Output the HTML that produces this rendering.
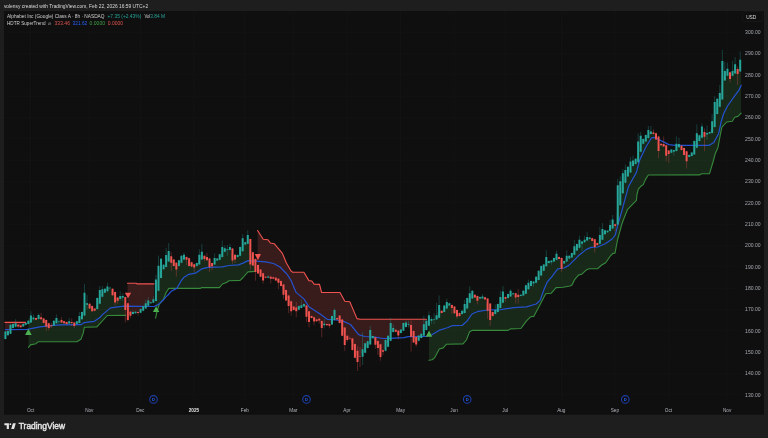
<!DOCTYPE html>
<html><head><meta charset="utf-8"><title>GOOGL chart</title>
<style>html,body{margin:0;padding:0;background:#1e1e1e;width:768px;height:438px;overflow:hidden}</style>
</head><body>
<svg width="768" height="438" viewBox="0 0 768 438" style="display:block;position:absolute;left:0;top:0">
<rect x="0" y="0" width="768" height="438" fill="#1e1e1e"/>
<rect x="4" y="11" width="760" height="403.7" fill="#0f0f0f"/>
<path d="M4 32.10H740.5 M4 53.44H740.5 M4 74.77H740.5 M4 96.11H740.5 M4 117.44H740.5 M4 138.78H740.5 M4 160.11H740.5 M4 181.44H740.5 M4 202.78H740.5 M4 224.12H740.5 M4 245.45H740.5 M4 266.79H740.5 M4 288.12H740.5 M4 309.46H740.5 M4 330.79H740.5 M4 352.13H740.5 M4 373.46H740.5 M4 394.80H740.5 M30.60 11V403.8 M89.28 11V403.8 M140.31 11V403.8 M193.89 11V403.8 M244.92 11V403.8 M293.39 11V403.8 M346.97 11V403.8 M400.55 11V403.8 M454.13 11V403.8 M505.16 11V403.8 M561.29 11V403.8 M614.87 11V403.8 M668.45 11V403.8 M727.13 11V403.8" stroke="#1b1b1b" stroke-width="0.33" fill="none"/>
<polygon points="5.0,322.4 25.6,322.4 25.6,325.2 23.3,325.2 20.7,326.4 18.2,325.9 15.6,324.2 13.1,326.0 10.5,329.2 8.0,333.1 5.4,335.3 5.0,335.3" fill="rgba(239,83,80,0.185)"/>
<polygon points="28.5,347.3 30.4,344.9 36.0,343.7 38.4,341.7 76.9,341.7 80.9,339.3 83.3,332.9 84.4,327.2 96.9,326.9 107.3,315.5 125.5,315.4 125.5,306.5 125.3,306.5 122.8,297.0 120.2,296.8 117.7,299.9 115.1,297.9 112.6,292.0 110.0,288.0 107.5,288.1 104.9,290.8 102.4,292.4 99.8,296.0 97.3,303.5 94.7,309.6 92.1,308.6 89.6,306.1 87.0,303.1 84.5,302.1 81.9,315.6 79.4,318.6 76.8,322.7 74.3,324.6 71.7,322.4 69.2,321.8 66.6,323.0 64.1,322.2 61.5,320.7 59.0,321.5 56.4,319.9 53.9,323.2 51.3,325.6 48.8,326.1 46.2,324.2 43.7,320.7 41.1,317.3 38.6,316.7 36.0,318.9 33.5,318.0 30.9,318.1 28.5,318.1" fill="rgba(76,175,80,0.16)"/>
<polygon points="127.5,283.3 136.5,283.3 137.0,283.9 154.0,283.9 154.0,300.3 153.4,300.3 150.8,302.8 148.3,302.4 145.7,305.1 143.2,308.5 140.6,310.8 138.1,313.0 135.5,312.4 133.0,312.7 130.4,314.2 127.9,311.8 127.5,311.8" fill="rgba(239,83,80,0.185)"/>
<polygon points="155.6,318.1 157.2,310.9 159.2,304.5 163.2,299.6 166.4,292.0 168.9,288.4 200.1,288.4 201.7,287.6 219.3,287.6 222.5,284.0 226.5,282.5 228.9,280.7 240.1,280.4 243.0,277.5 248.0,271.9 255.2,271.4 255.2,258.8 252.9,258.8 250.3,253.1 247.8,238.4 245.2,243.4 242.7,243.9 240.1,251.4 237.6,256.0 235.0,257.9 232.5,255.3 229.9,247.8 227.4,250.0 224.8,249.5 222.3,250.5 219.7,257.0 217.2,259.6 214.6,260.3 212.1,265.5 209.5,263.9 207.0,257.8 204.4,257.9 201.9,253.8 199.3,258.5 196.8,264.5 194.2,266.9 191.7,264.4 189.1,262.1 186.5,259.5 184.0,256.7 181.4,259.3 178.9,263.0 176.3,267.7 173.8,262.7 171.2,260.6 168.7,254.4 166.1,259.4 163.6,267.0 161.0,268.4 158.5,275.9 155.9,289.2 155.6,289.2" fill="rgba(76,175,80,0.16)"/>
<polygon points="257.6,230.5 263.2,239.3 268.0,239.8 270.4,243.0 274.4,243.8 278.4,248.6 282.4,253.4 286.4,263.0 291.0,271.0 292.7,272.2 303.9,272.3 308.9,280.6 311.8,281.0 314.3,284.3 319.5,284.4 321.6,292.5 340.0,292.5 344.8,301.2 349.8,301.7 357.0,318.6 360.0,319.3 426.5,319.3 426.5,325.4 426.4,325.4 423.8,328.1 421.3,335.8 418.7,338.1 416.2,341.2 413.6,336.8 411.1,333.4 408.5,324.4 406.0,324.4 403.4,326.9 400.9,331.2 398.3,333.9 395.8,330.8 393.2,329.3 390.7,330.8 388.1,341.2 385.6,345.4 383.0,351.6 380.5,351.4 377.9,346.1 375.4,341.9 372.8,337.1 370.3,336.4 367.7,344.6 365.1,347.9 362.6,350.8 360.0,356.8 357.5,357.5 354.9,350.8 352.4,344.2 349.8,338.4 347.3,338.3 344.7,337.6 342.2,327.7 339.6,319.2 337.1,318.8 334.5,314.7 332.0,320.3 329.4,325.5 326.9,324.7 324.3,324.1 321.8,326.6 319.2,320.3 316.7,320.4 314.1,320.2 311.6,317.1 309.0,317.9 306.5,312.3 303.9,305.2 301.4,305.4 298.8,307.9 296.3,309.6 293.7,308.3 291.2,307.2 288.6,302.5 286.1,295.2 283.5,290.5 281.0,283.5 278.4,282.3 275.8,279.0 273.3,278.0 270.7,278.8 268.2,276.8 265.6,277.2 263.1,277.5 260.5,273.1 258.0,269.2 257.6,269.2" fill="rgba(239,83,80,0.185)"/>
<polygon points="428.9,360.3 432.1,359.8 434.5,357.9 439.3,349.0 443.3,347.9 446.5,344.2 463.0,343.9 466.4,340.0 469.6,331.7 472.0,330.4 508.1,330.4 510.5,328.9 520.9,328.5 526.5,320.9 530.5,316.8 533.7,316.4 540.1,304.4 545.7,293.7 551.3,293.2 556.1,287.6 563.0,287.3 570.0,286.0 572.0,285.0 574.4,279.9 578.4,275.1 581.6,274.3 586.4,269.8 589.6,268.7 597.7,268.7 601.7,265.0 605.7,262.7 610.5,255.8 612.9,253.4 615.0,253.1 617.7,239.0 621.7,224.6 623.3,220.0 627.6,209.3 633.2,203.7 636.4,200.4 636.9,195.0 638.3,189.2 640.8,186.3 643.3,184.6 645.4,179.6 648.3,175.0 699.5,174.9 701.7,173.8 709.5,173.6 713.0,162.0 715.3,153.4 717.9,147.7 720.3,134.8 721.9,127.2 726.7,122.0 732.3,121.2 734.7,117.2 737.9,116.4 741.1,113.2 741.1,63.6 740.2,63.6 737.7,73.7 735.1,67.2 732.5,71.0 730.0,76.4 727.4,70.9 724.9,73.6 722.3,77.6 719.8,98.0 717.2,106.3 714.7,113.2 712.1,125.4 709.6,132.8 707.0,133.2 704.5,137.1 701.9,131.5 699.4,138.1 696.8,138.4 694.3,147.7 691.7,154.2 689.2,155.9 686.6,157.9 684.1,151.4 681.5,147.9 679.0,144.3 676.4,145.6 673.9,151.7 671.3,151.2 668.8,154.4 666.2,151.7 663.7,143.5 661.1,144.5 658.6,145.3 656.0,136.4 653.5,132.6 650.9,131.6 648.4,133.2 645.8,138.2 643.2,141.4 640.7,143.0 638.1,150.0 635.6,161.5 633.0,162.2 630.5,166.0 627.9,171.6 625.4,175.2 622.8,182.4 620.3,192.2 617.7,203.5 615.2,226.2 612.6,223.1 610.1,226.8 607.5,231.5 605.0,232.2 602.4,233.1 599.9,237.6 597.3,244.1 594.8,244.4 592.2,239.6 589.7,238.2 587.1,237.7 584.6,240.2 582.0,244.3 579.5,243.0 576.9,247.4 574.4,249.0 571.8,255.3 569.3,257.2 566.7,257.4 564.2,262.2 561.6,263.9 559.1,258.0 556.5,256.1 554.0,259.7 551.4,261.9 548.8,262.1 546.3,260.1 543.7,267.7 541.2,270.7 538.6,275.4 536.1,279.8 533.5,283.2 531.0,283.5 528.4,285.4 525.9,289.5 523.3,293.2 520.8,295.4 518.2,296.1 515.7,296.8 513.1,293.8 510.6,293.4 508.0,296.0 505.5,298.5 502.9,296.0 500.4,301.1 497.8,308.0 495.3,310.8 492.7,314.0 490.2,313.2 487.6,306.5 485.1,298.4 482.5,297.0 480.0,297.7 477.4,299.1 474.9,296.2 472.3,294.7 469.8,296.4 467.2,303.2 464.7,307.5 462.1,312.4 459.5,314.5 457.0,313.7 454.4,309.9 451.9,307.8 449.3,304.4 446.8,304.5 444.2,308.8 441.7,311.9 439.1,309.2 436.6,314.5 434.0,319.1 431.5,320.1 428.9,319.7 428.9,319.7" fill="rgba(76,175,80,0.16)"/>
<polyline points="5.0,322.4 25.6,322.4" fill="none" stroke="#ef5350" stroke-width="1.1" stroke-linejoin="round" stroke-linecap="round"/>
<polyline points="127.5,283.3 136.5,283.3 137.0,283.9 154.0,283.9" fill="none" stroke="#ef5350" stroke-width="1.1" stroke-linejoin="round" stroke-linecap="round"/>
<polyline points="257.6,230.5 263.2,239.3 268.0,239.8 270.4,243.0 274.4,243.8 278.4,248.6 282.4,253.4 286.4,263.0 291.0,271.0 292.7,272.2 303.9,272.3 308.9,280.6 311.8,281.0 314.3,284.3 319.5,284.4 321.6,292.5 340.0,292.5 344.8,301.2 349.8,301.7 357.0,318.6 360.0,319.3 426.5,319.3" fill="none" stroke="#ef5350" stroke-width="1.1" stroke-linejoin="round" stroke-linecap="round"/>
<polyline points="28.5,347.3 30.4,344.9 36.0,343.7 38.4,341.7 76.9,341.7 80.9,339.3 83.3,332.9 84.4,327.2 96.9,326.9 107.3,315.5 125.5,315.4" fill="none" stroke="#378a3c" stroke-width="1.1" stroke-linejoin="round" stroke-linecap="round"/>
<polyline points="155.6,318.1 157.2,310.9 159.2,304.5 163.2,299.6 166.4,292.0 168.9,288.4 200.1,288.4 201.7,287.6 219.3,287.6 222.5,284.0 226.5,282.5 228.9,280.7 240.1,280.4 243.0,277.5 248.0,271.9 255.2,271.4" fill="none" stroke="#378a3c" stroke-width="1.1" stroke-linejoin="round" stroke-linecap="round"/>
<polyline points="428.9,360.3 432.1,359.8 434.5,357.9 439.3,349.0 443.3,347.9 446.5,344.2 463.0,343.9 466.4,340.0 469.6,331.7 472.0,330.4 508.1,330.4 510.5,328.9 520.9,328.5 526.5,320.9 530.5,316.8 533.7,316.4 540.1,304.4 545.7,293.7 551.3,293.2 556.1,287.6 563.0,287.3 570.0,286.0 572.0,285.0 574.4,279.9 578.4,275.1 581.6,274.3 586.4,269.8 589.6,268.7 597.7,268.7 601.7,265.0 605.7,262.7 610.5,255.8 612.9,253.4 615.0,253.1 617.7,239.0 621.7,224.6 623.3,220.0 627.6,209.3 633.2,203.7 636.4,200.4 636.9,195.0 638.3,189.2 640.8,186.3 643.3,184.6 645.4,179.6 648.3,175.0 699.5,174.9 701.7,173.8 709.5,173.6 713.0,162.0 715.3,153.4 717.9,147.7 720.3,134.8 721.9,127.2 726.7,122.0 732.3,121.2 734.7,117.2 737.9,116.4 741.1,113.2" fill="none" stroke="#378a3c" stroke-width="1.1" stroke-linejoin="round" stroke-linecap="round"/>
<polyline points="5.4,329.6 27.2,329.3 40.0,326.8 52.9,325.3 61.0,324.8 81.0,324.7 84.2,322.6 89.7,321.8 94.3,321.3 99.9,317.6 102.5,314.6 110.5,307.9 117.9,306.8 124.0,306.2 154.0,306.5 158.2,304.6 163.2,300.0 166.4,296.4 168.0,295.0 171.2,291.3 176.9,288.4 180.9,281.2 184.1,277.2 188.9,274.3 195.3,273.2 201.7,268.9 208.1,267.3 222.5,266.8 228.9,265.5 238.5,264.9 243.0,263.1 248.0,260.6 256.0,261.1 265.6,261.9 273.6,263.5 280.0,267.0 286.4,273.5 288.0,275.6 291.2,280.7 296.1,292.4 304.1,299.1 308.9,306.8 320.1,314.0 327.3,319.3 336.1,320.0 342.5,320.9 350.5,324.5 358.6,334.6 363.0,336.0 365.0,336.5 375.0,337.1 383.3,338.5 390.0,338.3 404.0,337.7 408.2,336.7 425.7,336.5 431.5,335.0 439.0,330.4 446.4,328.0 448.0,327.5 452.0,325.7 462.4,325.3 467.2,320.9 472.0,314.0 478.4,311.3 488.0,310.0 500.9,309.7 513.7,307.6 526.5,306.8 536.1,304.0 540.1,300.4 544.1,289.2 547.3,282.0 552.1,276.4 557.5,269.1 560.0,268.5 564.0,268.0 568.8,265.4 578.4,255.8 586.4,249.4 591.2,247.4 597.7,247.0 605.7,243.5 612.1,239.0 615.3,235.0 617.7,225.4 621.5,212.1 628.4,186.8 636.4,172.4 639.8,159.7 645.8,147.3 651.2,138.2 654.5,137.4 660.9,140.6 668.9,144.6 675.3,145.4 708.9,145.4 713.8,142.5 718.6,133.7 721.1,122.0 723.5,114.0 727.5,106.0 734.7,95.9 739.1,89.9 741.1,85.4" fill="none" stroke="#2452cf" stroke-width="1.2" stroke-linejoin="round" stroke-linecap="round"/>
<path d="M5.40 330.9V339.6 M7.95 330.3V335.9 M10.50 324.2V334.3 M13.05 323.4V328.6 M15.61 319.2V327.4 M23.26 323.4V327.0 M25.81 322.3V325.4 M28.36 320.2V324.6 M30.91 311.2V323.0 M33.47 314.4V320.8 M38.57 313.3V319.5 M53.88 320.2V326.2 M56.43 314.4V323.8 M58.98 319.4V323.6 M69.19 318.1V324.2 M76.84 320.7V324.6 M79.39 312.0V323.5 M81.94 311.4V319.8 M84.49 284.0V316.2 M87.04 294.9V309.6 M97.25 297.3V309.7 M99.80 286.1V304.3 M102.35 286.1V297.4 M104.90 288.2V293.4 M107.46 282.9V291.8 M110.01 286.7V289.3 M120.21 291.2V300.8 M122.76 293.3V300.8 M132.97 310.0V314.6 M135.52 310.8V313.9 M140.62 308.4V313.3 M143.18 305.6V311.4 M145.73 299.6V309.1 M148.28 297.1V306.4 M150.83 301.7V303.9 M153.38 296.2V303.3 M155.93 274.8V301.5 M158.48 255.6V291.4 M161.04 258.2V278.6 M163.59 264.1V269.8 M166.14 247.8V267.6 M168.69 243.0V262.0 M178.90 259.6V266.5 M181.45 255.2V263.3 M184.00 252.6V260.1 M196.76 262.4V266.5 M199.31 249.4V265.2 M201.86 243.8V260.1 M214.61 253.4V265.2 M217.17 258.0V261.2 M219.72 253.6V260.4 M222.27 240.6V257.6 M224.82 245.4V252.4 M227.37 244.9V255.8 M229.92 243.8V250.5 M237.58 254.4V257.6 M240.13 246.4V256.4 M242.68 234.2V251.8 M245.23 241.6V245.2 M247.78 230.2V244.4 M268.19 274.8V278.3 M298.81 305.4V310.3 M301.36 299.6V308.7 M303.91 303.4V307.1 M324.32 318.8V328.5 M331.98 315.5V325.1 M334.53 308.1V320.6 M362.60 332.1V365.0 M365.15 342.6V353.3 M367.70 340.6V348.5 M370.25 325.8V345.2 M372.80 335.4V338.8 M385.56 339.4V351.4 M388.11 335.2V347.3 M390.66 317.9V341.4 M393.21 324.6V332.7 M400.87 329.0V333.5 M403.42 322.3V331.4 M405.97 320.4V327.7 M408.52 320.8V327.5 M418.73 334.8V341.4 M421.28 333.1V338.5 M423.83 315.8V336.4 M426.38 320.2V330.6 M428.93 311.2V326.4 M431.48 316.7V323.8 M434.04 313.3V324.2 M436.59 302.9V320.2 M439.14 295.4V318.4 M444.24 305.0V312.6 M446.79 298.5V309.0 M449.34 302.7V306.2 M462.10 310.2V314.6 M464.65 299.6V313.5 M467.20 297.4V309.0 M469.75 286.0V303.4 M472.31 290.2V299.1 M479.96 296.3V299.1 M482.51 294.0V299.1 M495.27 304.4V314.6 M497.82 303.4V312.6 M500.37 290.8V308.7 M502.92 286.0V303.4 M508.03 293.4V298.6 M510.58 289.2V297.0 M513.13 292.6V294.9 M520.78 294.2V296.5 M523.33 290.2V296.2 M525.89 284.6V294.3 M528.44 279.6V289.8 M530.99 280.3V286.6 M533.54 280.9V286.8 M536.09 276.1V283.4 M538.64 270.2V280.5 M541.19 265.3V276.1 M543.75 264.0V271.3 M546.30 250.2V266.8 M548.85 260.5V263.6 M551.40 260.0V264.6 M553.95 257.3V262.0 M556.50 250.6V260.4 M564.16 260.5V264.0 M566.71 250.2V262.0 M569.26 255.2V259.2 M571.81 252.5V258.0 M574.36 239.8V255.3 M576.91 243.5V251.2 M579.47 235.8V248.4 M582.02 240.8V251.0 M584.57 235.8V242.8 M587.12 231.8V241.2 M589.67 236.8V239.6 M599.88 227.0V244.4 M602.43 223.0V240.4 M604.98 229.6V234.8 M607.53 230.1V232.9 M610.08 219.8V231.6 M612.63 215.0V229.2 M617.74 178.8V225.2 M620.29 176.4V205.9 M622.84 169.2V193.8 M625.39 164.4V183.4 M627.94 166.2V177.0 M630.49 157.2V173.0 M633.04 155.6V166.6 M635.60 158.2V164.7 M638.15 133.4V162.8 M640.70 131.8V152.4 M643.25 138.4V144.4 M645.80 134.4V142.0 M648.35 126.0V138.6 M650.90 126.0V134.6 M671.32 149.0V153.4 M673.87 149.5V155.7 M676.42 136.4V151.5 M678.97 137.7V147.9 M689.18 154.3V157.5 M691.73 151.9V156.6 M694.28 140.3V155.0 M696.83 124.4V148.3 M699.38 134.7V141.5 M701.93 123.3V138.3 M707.03 125.6V140.0 M709.59 131.4V134.2 M712.14 114.0V133.5 M714.69 96.2V127.6 M717.24 98.1V114.5 M719.79 85.0V107.3 M722.34 49.8V100.1 M724.89 61.8V81.2 M727.45 62.6V76.3 M732.55 61.0V76.3 M735.10 57.0V74.1 M740.20 51.4V72.0" stroke="#26a69a" stroke-width="0.75" stroke-opacity="0.42" fill="none"/>
<path d="M18.16 324.2V328.0 M20.71 324.9V327.8 M36.02 317.5V320.3 M41.12 312.8V319.8 M43.67 317.8V323.5 M46.22 319.4V330.9 M48.77 322.6V330.4 M51.33 322.6V328.0 M61.53 317.2V323.0 M64.08 320.6V323.8 M66.63 321.4V324.6 M71.74 318.4V326.0 M74.29 321.8V328.0 M89.60 303.1V309.1 M92.15 305.3V311.8 M94.70 307.9V311.3 M112.56 288.2V295.8 M115.11 291.4V305.6 M117.66 297.0V304.0 M125.32 296.5V322.5 M127.87 302.7V321.2 M130.42 311.1V318.3 M138.07 311.5V315.4 M171.24 252.2V271.1 M173.79 258.9V266.5 M176.34 262.1V276.7 M186.55 256.4V265.0 M189.10 257.6V266.5 M191.65 261.6V267.2 M194.20 263.7V271.9 M204.41 255.2V261.4 M206.96 253.1V260.8 M209.51 258.0V271.9 M212.06 262.4V270.3 M232.47 248.0V263.8 M235.03 254.1V263.0 M250.33 238.4V270.3 M252.89 251.6V266.0 M255.44 258.4V280.7 M257.99 264.4V274.1 M260.54 268.9V277.3 M263.09 272.6V283.6 M265.64 276.1V278.3 M270.75 276.1V283.6 M273.30 276.6V279.4 M275.85 277.1V281.0 M278.40 278.2V289.2 M280.95 280.3V286.6 M283.50 283.8V298.8 M286.05 289.4V301.0 M288.61 295.0V313.2 M291.16 300.6V315.6 M293.71 305.9V310.6 M296.26 302.0V317.2 M306.47 305.0V322.0 M309.02 310.7V327.3 M311.57 315.5V318.6 M314.12 316.6V325.3 M316.67 319.0V321.8 M319.22 318.2V323.7 M321.77 320.3V337.3 M326.88 323.5V325.9 M329.43 323.5V328.5 M337.08 317.4V320.2 M339.63 315.0V323.5 M342.18 319.0V336.3 M344.74 326.9V350.8 M347.29 335.2V342.1 M349.84 336.7V340.0 M352.39 337.9V350.6 M354.94 343.4V358.3 M357.49 346.2V371.0 M360.04 347.1V367.1 M375.35 336.7V348.8 M377.90 340.4V355.0 M380.46 343.6V360.8 M383.01 349.6V355.0 M395.76 329.2V332.4 M398.32 330.2V339.2 M411.07 320.4V351.7 M413.62 330.4V343.1 M416.18 336.5V346.7 M441.69 310.2V313.5 M451.89 304.3V314.0 M454.45 305.9V313.8 M457.00 309.4V318.8 M459.55 312.3V316.7 M474.86 294.2V298.1 M477.41 295.3V304.4 M485.06 296.6V300.2 M487.61 297.9V318.8 M490.17 303.0V326.1 M492.72 311.4V316.7 M505.47 296.3V302.0 M515.68 292.6V303.6 M518.23 289.2V303.6 M559.05 256.4V259.6 M561.61 257.3V271.9 M592.22 237.6V241.5 M594.77 238.7V252.6 M597.32 242.4V245.7 M615.18 223.7V231.0 M653.46 129.2V134.6 M656.01 132.6V140.2 M658.56 135.8V158.1 M661.11 143.1V145.9 M663.66 136.4V147.0 M666.21 144.7V161.3 M668.76 149.9V162.9 M681.52 145.1V150.7 M684.07 147.4V155.5 M686.62 150.6V168.5 M704.48 128.4V151.2 M730.00 71.6V82.6 M737.65 66.6V85.0" stroke="#ef5350" stroke-width="0.75" stroke-opacity="0.42" fill="none"/>
<path d="M5.40 331.6V338.9 M7.95 330.9V335.3 M10.50 324.8V333.7 M13.05 324.0V328.0 M15.61 323.2V326.8 M23.26 324.0V326.4 M25.81 322.9V324.8 M28.36 320.8V324.0 M30.91 315.6V322.4 M33.47 317.6V319.2 M38.57 314.9V318.9 M53.88 320.8V325.6 M56.43 318.0V323.2 M58.98 321.3V321.8 M69.19 321.3V323.6 M76.84 321.3V324.0 M79.39 316.0V322.9 M81.94 312.0V319.2 M84.49 292.8V315.6 M87.04 303.2V304.8 M97.25 297.9V309.1 M99.80 289.9V303.7 M102.35 289.3V296.8 M104.90 288.8V292.8 M107.46 286.4V291.2 M110.01 287.7V288.3 M120.21 296.0V299.0 M122.76 296.0V297.7 M132.97 312.1V314.0 M135.52 311.7V313.3 M140.62 309.0V312.7 M143.18 306.2V310.8 M145.73 303.3V308.5 M148.28 300.4V305.8 M150.83 302.3V303.3 M153.38 299.2V302.7 M155.93 279.6V300.9 M158.48 265.7V290.8 M161.04 258.8V278.0 M163.59 264.7V269.2 M166.14 255.0V267.0 M168.69 251.0V261.4 M178.90 260.2V265.9 M181.45 255.8V262.7 M184.00 254.7V259.5 M196.76 263.0V265.9 M199.31 254.7V264.6 M201.86 251.8V259.5 M214.61 257.9V264.6 M217.17 258.6V260.6 M219.72 254.2V259.8 M222.27 247.0V257.0 M224.82 248.3V251.8 M227.37 249.3V249.9 M229.92 247.0V249.9 M237.58 255.0V257.0 M240.13 247.0V255.8 M242.68 238.2V251.2 M245.23 242.2V244.6 M247.78 235.0V243.8 M268.19 276.4V277.7 M298.81 306.0V309.7 M301.36 305.2V308.1 M303.91 304.0V306.5 M324.32 323.7V325.3 M331.98 316.1V324.5 M334.53 310.0V320.0 M362.60 349.2V356.8 M365.15 343.2V352.7 M367.70 341.2V347.9 M370.25 330.0V344.6 M372.80 336.0V338.2 M385.56 340.0V350.8 M388.11 335.8V346.7 M390.66 322.9V340.8 M393.21 327.9V332.1 M400.87 329.6V332.9 M403.42 322.9V330.8 M405.97 322.5V327.1 M408.52 324.2V325.0 M418.73 335.4V340.8 M421.28 333.8V337.9 M423.83 324.2V335.8 M426.38 320.8V330.0 M428.93 315.2V325.8 M431.48 319.0V320.8 M434.04 319.2V319.8 M436.59 315.2V319.6 M439.14 305.0V317.8 M444.24 305.6V312.0 M446.79 302.0V308.4 M449.34 303.3V305.6 M462.10 310.8V314.0 M464.65 304.0V312.9 M467.20 298.0V308.4 M469.75 293.2V302.8 M472.31 290.8V298.5 M479.96 296.9V298.5 M482.51 296.4V298.5 M495.27 310.0V314.0 M497.82 304.0V312.0 M500.37 296.9V308.1 M502.92 291.6V302.8 M508.03 294.0V298.0 M510.58 290.8V296.4 M513.13 293.2V294.3 M520.78 294.8V295.9 M523.33 290.8V295.6 M525.89 285.2V293.7 M528.44 282.8V289.2 M530.99 280.9V286.0 M533.54 281.5V283.6 M536.09 276.7V282.8 M538.64 270.8V279.9 M541.19 265.9V275.5 M543.75 264.6V270.7 M546.30 257.0V266.2 M548.85 261.1V263.0 M551.40 260.6V262.2 M553.95 257.9V261.4 M556.50 253.8V259.8 M564.16 261.1V263.4 M566.71 255.8V261.4 M569.26 255.8V258.6 M571.81 253.1V257.4 M574.36 246.2V254.7 M576.91 244.1V250.6 M579.47 239.8V247.8 M582.02 241.4V243.8 M584.57 239.8V242.2 M587.12 237.1V240.6 M589.67 237.4V239.0 M599.88 235.0V243.8 M602.43 229.1V239.8 M604.98 230.2V234.2 M607.53 230.7V232.3 M610.08 224.9V231.0 M612.63 219.5V228.6 M617.74 185.2V224.6 M620.29 181.2V205.3 M622.84 173.2V193.2 M625.39 170.0V182.8 M627.94 166.8V176.4 M630.49 161.5V172.4 M633.04 160.4V166.0 M635.60 158.8V164.1 M638.15 141.4V162.2 M640.70 135.8V151.8 M643.25 139.0V143.8 M645.80 135.0V141.4 M648.35 130.0V138.0 M650.90 131.6V134.0 M671.32 149.6V152.8 M673.87 150.1V151.7 M676.42 143.7V150.9 M678.97 144.1V147.3 M689.18 154.9V156.9 M691.73 152.5V156.0 M694.28 140.9V154.4 M696.83 133.2V147.7 M699.38 135.3V140.9 M701.93 126.5V137.7 M707.03 132.9V134.5 M709.59 132.0V133.6 M712.14 121.2V132.9 M714.69 101.9V127.0 M717.24 98.7V113.9 M719.79 93.0V106.7 M722.34 61.0V99.5 M724.89 70.9V80.6 M727.45 68.7V75.7 M732.55 70.9V75.7 M735.10 64.2V73.5 M740.20 59.7V71.4" stroke="#26a69a" stroke-width="2" fill="none"/>
<path d="M18.16 324.8V326.4 M20.71 325.5V327.2 M36.02 318.1V319.7 M41.12 317.2V319.2 M43.67 318.4V322.9 M46.22 320.0V326.4 M48.77 323.2V328.0 M51.33 325.3V326.3 M61.53 320.0V322.4 M64.08 321.2V323.2 M66.63 322.0V324.0 M71.74 322.1V323.1 M74.29 322.4V326.1 M89.60 303.7V308.5 M92.15 305.9V311.2 M94.70 308.5V310.7 M112.56 288.8V295.2 M115.11 292.0V302.4 M117.66 297.6V300.8 M125.32 297.1V310.0 M127.87 303.3V320.0 M130.42 311.7V315.8 M138.07 312.1V312.9 M171.24 256.3V262.7 M173.79 259.5V265.9 M176.34 262.7V269.5 M186.55 257.0V259.8 M189.10 258.2V265.9 M191.65 262.2V266.6 M194.20 264.3V267.5 M204.41 255.8V259.0 M206.96 257.0V260.2 M209.51 258.6V267.0 M212.06 263.0V266.2 M232.47 248.6V260.6 M235.03 254.7V259.5 M250.33 239.0V264.6 M252.89 252.2V265.4 M255.44 259.0V271.9 M257.99 265.0V273.5 M260.54 269.5V276.7 M263.09 273.2V280.4 M265.64 276.7V277.7 M270.75 276.7V278.8 M273.30 277.2V278.8 M275.85 277.7V280.4 M278.40 278.8V282.8 M280.95 280.9V286.0 M283.50 284.4V294.8 M286.05 290.0V300.4 M288.61 295.6V306.0 M291.16 301.2V311.3 M293.71 306.5V310.0 M296.26 307.6V311.3 M306.47 305.6V316.8 M309.02 311.3V322.0 M311.57 316.1V318.0 M314.12 317.2V321.6 M316.67 319.6V321.2 M319.22 318.8V320.4 M321.77 320.9V328.0 M326.88 324.1V325.3 M329.43 324.1V325.7 M337.08 318.0V319.6 M339.63 315.6V322.9 M342.18 319.6V335.7 M344.74 327.5V345.0 M347.29 335.8V340.0 M349.84 338.2V338.8 M352.39 338.5V350.0 M354.94 344.0V357.7 M357.49 350.8V362.1 M360.04 356.2V356.8 M375.35 337.3V344.8 M377.90 341.0V347.9 M380.46 344.2V357.1 M383.01 350.2V351.7 M395.76 329.8V331.8 M398.32 330.8V335.4 M411.07 325.0V336.7 M413.62 331.0V342.5 M416.18 337.1V344.6 M441.69 310.8V312.9 M451.89 304.9V308.1 M454.45 306.5V313.2 M457.00 310.0V316.4 M459.55 312.9V316.1 M474.86 294.8V297.5 M477.41 295.9V300.7 M485.06 297.2V299.6 M487.61 298.5V310.8 M490.17 303.6V320.0 M492.72 312.0V316.1 M505.47 296.9V298.8 M515.68 293.2V297.5 M518.23 294.8V296.9 M559.05 257.0V259.0 M561.61 257.9V268.7 M592.22 238.2V240.9 M594.77 239.3V247.0 M597.32 243.0V245.1 M615.18 224.3V225.9 M653.46 132.4V134.0 M656.01 133.2V139.6 M658.56 136.4V150.9 M661.11 143.7V145.3 M663.66 144.1V146.4 M666.21 145.3V155.7 M668.76 150.5V154.1 M681.52 145.7V150.1 M684.07 148.0V154.9 M686.62 151.2V161.3 M704.48 132.0V136.8 M730.00 72.2V79.0 M737.65 69.0V74.1" stroke="#ef5350" stroke-width="2" fill="none"/>
<polygon points="28.4,328.8 25.1,335.0 31.7,335.0" fill="#4caf50"/>
<polygon points="128.0,298.3 124.8,292.7 131.2,292.7" fill="#ef5350"/>
<polygon points="156.1,306.3 152.9,312.0 159.3,312.0" fill="#4caf50"/>
<polygon points="257.9,260.2 254.8,254.0 261.0,254.0" fill="#ef5350"/>
<polygon points="429.0,330.4 425.8,336.7 432.2,336.7" fill="#4caf50"/>
</svg>
<svg width="768" height="438" viewBox="0 0 768 438" style="display:block;position:absolute;left:0;top:0;will-change:transform;opacity:0.999">
<circle cx="153.5" cy="399.4" r="3.8" fill="none" stroke="#1d3fa6" stroke-width="1.1"/>
<text x="153.5" y="400.9" font-family='"Liberation Sans", sans-serif' font-size="4.1" font-weight="bold" fill="#2962ff" text-anchor="middle">D</text>
<circle cx="306.5" cy="399.4" r="3.8" fill="none" stroke="#1d3fa6" stroke-width="1.1"/>
<text x="306.5" y="400.9" font-family='"Liberation Sans", sans-serif' font-size="4.1" font-weight="bold" fill="#2962ff" text-anchor="middle">D</text>
<circle cx="467.2" cy="399.4" r="3.8" fill="none" stroke="#1d3fa6" stroke-width="1.1"/>
<text x="467.2" y="400.9" font-family='"Liberation Sans", sans-serif' font-size="4.1" font-weight="bold" fill="#2962ff" text-anchor="middle">D</text>
<circle cx="625.3" cy="399.4" r="3.8" fill="none" stroke="#1d3fa6" stroke-width="1.1"/>
<text x="625.3" y="400.9" font-family='"Liberation Sans", sans-serif' font-size="4.1" font-weight="bold" fill="#2962ff" text-anchor="middle">D</text>
<text x="745.1" y="33.85" font-family='"Liberation Sans", sans-serif' font-size="4.75" fill="#a9acb4" textLength="15.5" lengthAdjust="spacingAndGlyphs">300.00</text>
<text x="745.1" y="55.19" font-family='"Liberation Sans", sans-serif' font-size="4.75" fill="#a9acb4" textLength="15.5" lengthAdjust="spacingAndGlyphs">290.00</text>
<text x="745.1" y="76.52" font-family='"Liberation Sans", sans-serif' font-size="4.75" fill="#a9acb4" textLength="15.5" lengthAdjust="spacingAndGlyphs">280.00</text>
<text x="745.1" y="97.86" font-family='"Liberation Sans", sans-serif' font-size="4.75" fill="#a9acb4" textLength="15.5" lengthAdjust="spacingAndGlyphs">270.00</text>
<text x="745.1" y="119.19" font-family='"Liberation Sans", sans-serif' font-size="4.75" fill="#a9acb4" textLength="15.5" lengthAdjust="spacingAndGlyphs">260.00</text>
<text x="745.1" y="140.53" font-family='"Liberation Sans", sans-serif' font-size="4.75" fill="#a9acb4" textLength="15.5" lengthAdjust="spacingAndGlyphs">250.00</text>
<text x="745.1" y="161.86" font-family='"Liberation Sans", sans-serif' font-size="4.75" fill="#a9acb4" textLength="15.5" lengthAdjust="spacingAndGlyphs">240.00</text>
<text x="745.1" y="183.19" font-family='"Liberation Sans", sans-serif' font-size="4.75" fill="#a9acb4" textLength="15.5" lengthAdjust="spacingAndGlyphs">230.00</text>
<text x="745.1" y="204.53" font-family='"Liberation Sans", sans-serif' font-size="4.75" fill="#a9acb4" textLength="15.5" lengthAdjust="spacingAndGlyphs">220.00</text>
<text x="745.1" y="225.87" font-family='"Liberation Sans", sans-serif' font-size="4.75" fill="#a9acb4" textLength="15.5" lengthAdjust="spacingAndGlyphs">210.00</text>
<text x="745.1" y="247.20" font-family='"Liberation Sans", sans-serif' font-size="4.75" fill="#a9acb4" textLength="15.5" lengthAdjust="spacingAndGlyphs">200.00</text>
<text x="745.1" y="268.54" font-family='"Liberation Sans", sans-serif' font-size="4.75" fill="#a9acb4" textLength="15.5" lengthAdjust="spacingAndGlyphs">190.00</text>
<text x="745.1" y="289.87" font-family='"Liberation Sans", sans-serif' font-size="4.75" fill="#a9acb4" textLength="15.5" lengthAdjust="spacingAndGlyphs">180.00</text>
<text x="745.1" y="311.21" font-family='"Liberation Sans", sans-serif' font-size="4.75" fill="#a9acb4" textLength="15.5" lengthAdjust="spacingAndGlyphs">170.00</text>
<text x="745.1" y="332.54" font-family='"Liberation Sans", sans-serif' font-size="4.75" fill="#a9acb4" textLength="15.5" lengthAdjust="spacingAndGlyphs">160.00</text>
<text x="745.1" y="353.88" font-family='"Liberation Sans", sans-serif' font-size="4.75" fill="#a9acb4" textLength="15.5" lengthAdjust="spacingAndGlyphs">150.00</text>
<text x="745.1" y="375.21" font-family='"Liberation Sans", sans-serif' font-size="4.75" fill="#a9acb4" textLength="15.5" lengthAdjust="spacingAndGlyphs">140.00</text>
<text x="745.1" y="396.55" font-family='"Liberation Sans", sans-serif' font-size="4.75" fill="#a9acb4" textLength="15.5" lengthAdjust="spacingAndGlyphs">130.00</text>
<rect x="742.3" y="11.7" width="20.4" height="9.8" rx="1.2" fill="none" stroke="#232323" stroke-width="0.5"/>
<text x="751.2" y="19.3" font-family='"Liberation Sans", sans-serif' font-size="4.8" fill="#dcdcdc" text-anchor="middle">USD</text>
<text x="30.6" y="411.5" font-family='"Liberation Sans", sans-serif' font-size="4.7" fill="#b4b7bf" text-anchor="middle">Oct</text>
<text x="89.3" y="411.5" font-family='"Liberation Sans", sans-serif' font-size="4.7" fill="#b4b7bf" text-anchor="middle">Nov</text>
<text x="140.3" y="411.5" font-family='"Liberation Sans", sans-serif' font-size="4.7" fill="#b4b7bf" text-anchor="middle">Dec</text>
<text x="193.9" y="411.5" font-family='"Liberation Sans", sans-serif' font-size="4.7" font-weight="bold" fill="#e4e4e4" text-anchor="middle">2025</text>
<text x="244.9" y="411.5" font-family='"Liberation Sans", sans-serif' font-size="4.7" fill="#b4b7bf" text-anchor="middle">Feb</text>
<text x="293.4" y="411.5" font-family='"Liberation Sans", sans-serif' font-size="4.7" fill="#b4b7bf" text-anchor="middle">Mar</text>
<text x="347.0" y="411.5" font-family='"Liberation Sans", sans-serif' font-size="4.7" fill="#b4b7bf" text-anchor="middle">Apr</text>
<text x="400.6" y="411.5" font-family='"Liberation Sans", sans-serif' font-size="4.7" fill="#b4b7bf" text-anchor="middle">May</text>
<text x="454.1" y="411.5" font-family='"Liberation Sans", sans-serif' font-size="4.7" fill="#b4b7bf" text-anchor="middle">Jun</text>
<text x="505.2" y="411.5" font-family='"Liberation Sans", sans-serif' font-size="4.7" fill="#b4b7bf" text-anchor="middle">Jul</text>
<text x="561.3" y="411.5" font-family='"Liberation Sans", sans-serif' font-size="4.7" fill="#b4b7bf" text-anchor="middle">Aug</text>
<text x="614.9" y="411.5" font-family='"Liberation Sans", sans-serif' font-size="4.7" fill="#b4b7bf" text-anchor="middle">Sep</text>
<text x="668.5" y="411.5" font-family='"Liberation Sans", sans-serif' font-size="4.7" fill="#b4b7bf" text-anchor="middle">Oct</text>
<text x="727.1" y="411.5" font-family='"Liberation Sans", sans-serif' font-size="4.7" fill="#b4b7bf" text-anchor="middle">Nov</text>
<text x="3.9" y="7.9" font-family='"Liberation Sans", sans-serif' font-size="4.85" fill="#dadada" textLength="144.2" lengthAdjust="spacingAndGlyphs">volensy created with TradingView.com, Feb 22, 2026 16:59 UTC+2</text>
<text x="7.0" y="18.1" font-family='"Liberation Sans", sans-serif' font-size="4.62" fill="#cfcfcf" textLength="97.5" lengthAdjust="spacingAndGlyphs">Alphabet Inc (Google) Class A · 8h · NASDAQ</text>
<text x="107.5" y="18.1" font-family='"Liberation Sans", sans-serif' font-size="4.62" fill="#26a69a" textLength="33.8" lengthAdjust="spacingAndGlyphs">+7.35 (+2.43%)</text>
<text x="144.4" y="18.1" font-family='"Liberation Sans", sans-serif' font-size="4.62" fill="#cfcfcf" textLength="5.8" lengthAdjust="spacingAndGlyphs">Vol</text>
<text x="150.3" y="18.1" font-family='"Liberation Sans", sans-serif' font-size="4.62" fill="#26a69a" textLength="14.8" lengthAdjust="spacingAndGlyphs">3.84 M</text>
<text x="7.0" y="24.8" font-family='"Liberation Sans", sans-serif' font-size="4.62" fill="#cfcfcf" textLength="38.5" lengthAdjust="spacingAndGlyphs">HDTR SuperTrend</text>
<text x="48.3" y="24.8" font-family='"Liberation Sans", sans-serif' font-size="4.62" fill="#9a9a9a">⌀</text>
<text x="54.5" y="24.8" font-family='"Liberation Sans", sans-serif' font-size="4.62" fill="#e25550" textLength="15.5" lengthAdjust="spacingAndGlyphs">333.46</text>
<text x="72.6" y="24.8" font-family='"Liberation Sans", sans-serif' font-size="4.62" fill="#2962ff" textLength="14.6" lengthAdjust="spacingAndGlyphs">321.62</text>
<text x="89.6" y="24.8" font-family='"Liberation Sans", sans-serif' font-size="4.62" fill="#43a047" textLength="15.4" lengthAdjust="spacingAndGlyphs">0.0000</text>
<text x="107.7" y="24.8" font-family='"Liberation Sans", sans-serif' font-size="4.62" fill="#e25550" textLength="15.4" lengthAdjust="spacingAndGlyphs">0.0000</text>
<g fill="#e6e6e6"><path d="M4.4 423.15H8.9V428.95H6.75V425.25H4.4Z"/><path d="M12.9 423.15H15.8L14.1 428.95H11.2Z"/><circle cx="10.35" cy="424.15" r="0.9"/></g>
<text x="18.8" y="429" font-family='"Liberation Sans", sans-serif' font-size="8.3" fill="#e6e6e6" stroke="#e6e6e6" stroke-width="0.42" textLength="46.2" lengthAdjust="spacingAndGlyphs">TradingView</text>
</svg>
</body></html>
